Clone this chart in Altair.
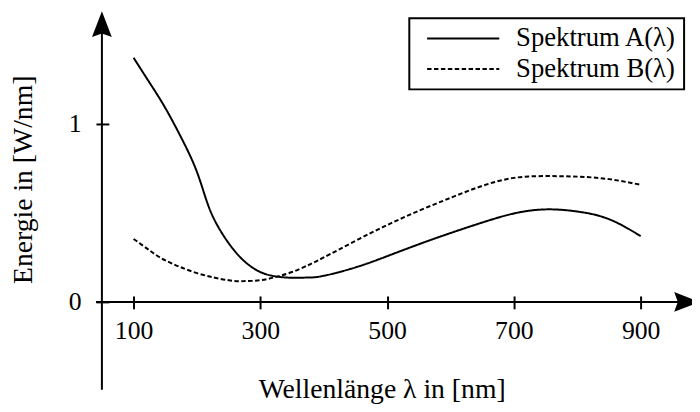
import altair as alt
import pandas as pd

# ---- data ----
wavelengths_A = [100, 125, 150, 175, 190, 200, 210, 225, 250, 275, 300, 325, 350,
                 375, 400, 450, 500, 550, 600, 650, 700, 750, 800, 850, 900]
spectrum_A = [1.372, 1.233, 1.09, 0.924, 0.815, 0.73, 0.625, 0.48, 0.33, 0.228, 0.168,
              0.143, 0.136, 0.137, 0.147, 0.194, 0.257, 0.324, 0.387, 0.446, 0.497,
              0.52, 0.508, 0.465, 0.37]
wavelengths_B = [100, 125, 150, 200, 250, 275, 300, 325, 350, 375, 400, 450, 500,
                 550, 600, 650, 700, 750, 800, 850, 900]
spectrum_B = [0.354, 0.29, 0.234, 0.162, 0.122, 0.117, 0.122, 0.141, 0.168, 0.206, 0.25,
              0.343, 0.432, 0.512, 0.585, 0.652, 0.697, 0.707, 0.704, 0.69, 0.658]
series_names = ["Spektrum A(λ)", "Spektrum B(λ)"]
x_ticks = [100, 300, 500, 700, 900]
y_ticks = [0, 1]
x_title = "Wellenlänge λ in [nm]"
y_title = "Energie in [W/nm]"

df = pd.concat([
    pd.DataFrame({"wl": wavelengths_A, "val": spectrum_A, "series": series_names[0]}),
    pd.DataFrame({"wl": wavelengths_B, "val": spectrum_B, "series": series_names[1]}),
])

# ---- layout ----
W, H = 597, 383
X_DOMAIN = [50, 981]
Y_DOMAIN = [-0.494, 1.633]
PX_X = W / (X_DOMAIN[1] - X_DOMAIN[0])
PX_Y = H / (Y_DOMAIN[1] - Y_DOMAIN[0])
FONT = "Liberation Serif"

x_scale = alt.Scale(domain=X_DOMAIN, nice=False, zero=False)
y_scale = alt.Scale(domain=Y_DOMAIN, nice=False, zero=False)

x_axis = alt.Axis(
    values=x_ticks, offset=-95, domain=False, grid=False, format="d",
    tickSize=13, tickWidth=2, tickColor="black",
    labelFont=FONT, labelFontSize=26, labelColor="black", labelPadding=9,
    labelFlush=False, labelOverlap=False,
    title=x_title, titleFont=FONT, titleFontSize=28, titleFontWeight="normal",
    titleColor="black", titleX=283, titleY=103, titleAlign="center",
    titleBaseline="alphabetic",
)
y_axis = alt.Axis(
    values=y_ticks, offset=-7, domain=False, grid=False, format="d",
    tickSize=13, tickWidth=2, tickColor="black",
    labelFont=FONT, labelFontSize=26, labelColor="black", labelPadding=15,
    labelOverlap=False,
    title=y_title, titleFont=FONT, titleFontSize=28, titleFontWeight="normal",
    titleColor="black", titleAngle=270, titleX=-78, titleY=170,
    titleAlign="center", titleBaseline="alphabetic",
)

legend = alt.Legend(
    orient="none", legendX=311, legendY=7, title=None,
    labelFont=FONT, labelFontSize=27, labelColor="black", labelLimit=400,
    symbolType="M-8,0H8", symbolSize=83.3, symbolStrokeWidth=2,
    symbolStrokeColor="black", symbolFillColor="transparent",
    symbolOffset=34, labelOffset=40, padding=7, rowPadding=3,
    strokeColor="black", fillColor="white",
)

lines = alt.Chart(df).mark_line(
    color="black", strokeWidth=2, interpolate="natural"
).encode(
    x=alt.X("wl:Q", scale=x_scale, axis=x_axis),
    y=alt.Y("val:Q", scale=y_scale, axis=y_axis),
    strokeDash=alt.StrokeDash(
        "series:N",
        scale=alt.Scale(domain=series_names, range=[[1, 0], [4.5, 2.5]]),
        legend=legend,
    ),
)

one = alt.Data(values=[{}])

x_axis_line = alt.Chart(one).mark_rule(color="black", strokeWidth=2).encode(
    x=alt.datum(X_DOMAIN[0] - 6 / PX_X),
    x2=alt.datum(X_DOMAIN[0] + 587 / PX_X),
    y=alt.datum(0),
)
y_axis_line = alt.Chart(one).mark_rule(color="black", strokeWidth=2).encode(
    x=alt.datum(X_DOMAIN[0]),
    y=alt.datum(Y_DOMAIN[0]),
    y2=alt.datum(Y_DOMAIN[1] - 21 / PX_Y),
)

ARROW = "M0,-1L0.77,1L0,0.72L-0.77,1Z"
arrow_y = alt.Chart(one).mark_point(
    shape=ARROW, size=676, filled=True, color="black", opacity=1, strokeWidth=0
).encode(x=alt.datum(X_DOMAIN[0]), y=alt.datum(Y_DOMAIN[1] - 13 / PX_Y))
arrow_x = alt.Chart(one).mark_point(
    shape=ARROW, size=676, filled=True, color="black", opacity=1, strokeWidth=0,
    angle=90,
).encode(x=alt.datum(X_DOMAIN[0] + 592 / PX_X), y=alt.datum(0))

chart = alt.layer(lines, x_axis_line, y_axis_line, arrow_x, arrow_y).properties(
    width=W, height=H, autosize="none",
    padding={"left": 95, "top": 1, "right": 0, "bottom": 14},
).configure_view(strokeWidth=0).configure_legend(strokeWidth=2)

chart.save("out.html", embed_options={"renderer": "svg", "actions": False})
